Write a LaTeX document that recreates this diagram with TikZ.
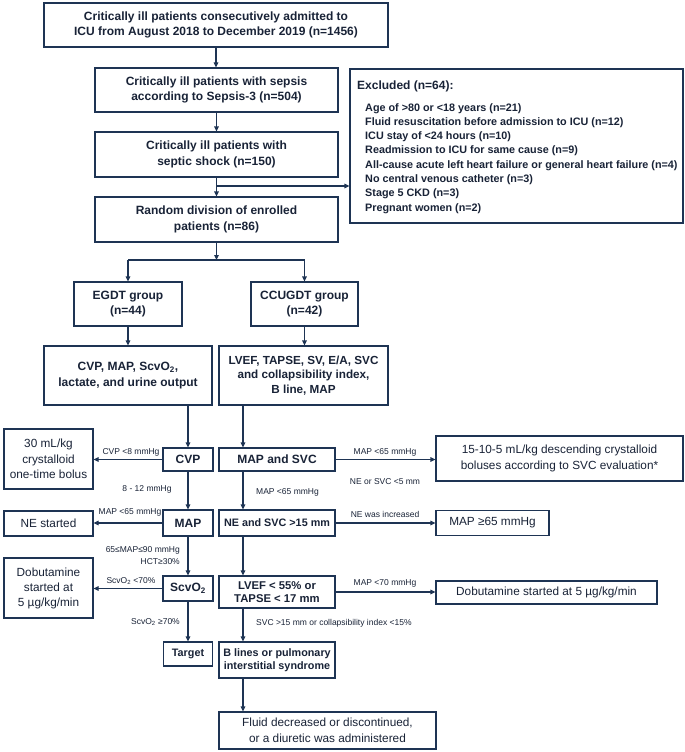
\documentclass[tikz,border=0pt]{standalone}
\usepackage{fontspec}
\setmainfont{Liberation Sans}
\usetikzlibrary{arrows.meta}
\definecolor{navy}{RGB}{30,52,84}
\definecolor{ink}{RGB}{25,35,55}
\begin{document}
\begin{tikzpicture}[x=1pt,y=-1pt,
  wh/.style 2 args={minimum width=#1, minimum height=#2},
  box/.style={draw=navy, line width=1.1pt, text=ink, align=center, inner sep=0pt, font=\fontsize{12}{15.5}\selectfont\bfseries},
  rbox/.style={box, font=\fontsize{11.8}{15.5}\selectfont},
  lab/.style={text=ink, inner sep=0pt, font=\fontsize{8.5}{10}\selectfont},
  exitem/.style={text=ink, inner sep=0pt, anchor=base west, font=\fontsize{10.8}{13}\selectfont\bfseries},
  arr/.style={draw=navy, line width=1.1pt, -{Triangle[length=5pt,width=4.5pt]}},
  ln/.style={draw=navy, line width=1.1pt},
]
\fill[white] (0,0) rectangle (685,752);
\useasboundingbox (0,0) rectangle (685,752);

% top chain
\node[box, wh={344}{44}] (n1) at (216,25) {Critically ill patients consecutively admitted to\\ICU from August 2018 to December 2019 (n=1456)};
\node[box, wh={243}{44}] (n2) at (216.5,90) {Critically ill patients with sepsis\\according to Sepsis-3 (n=504)};
\node[box, wh={243}{45}] (n3) at (216.5,154.5) {Critically ill patients with\\septic shock (n=150)};
\node[box, wh={243}{45}] (n4) at (216.5,219.5) {Random division of enrolled\\patients (n=86)};

% excluded box
\node[draw=navy, line width=1.1pt, wh={333}{154}, inner sep=0pt] (ex) at (516.5,146) {};
\node[text=ink, inner sep=0pt, anchor=base west, font=\fontsize{12}{14}\selectfont\bfseries] (exh) at (357,89.5) {Excluded (n=64):};
\node[exitem] (e1) at (365,111.0) {Age of >80 or <18 years (n=21)};
\node[exitem] (e2) at (365,125.3) {Fluid resuscitation before admission to ICU (n=12)};
\node[exitem] (e3) at (365,139.6) {ICU stay of <24 hours (n=10)};
\node[exitem] (e4) at (365,153.9) {Readmission to ICU for same cause (n=9)};
\node[exitem] (e5) at (365,168.2) {All-cause acute left heart failure or general heart failure (n=4)};
\node[exitem] (e6) at (365,182.5) {No central venous catheter (n=3)};
\node[exitem] (e7) at (365,196.8) {Stage 5 CKD (n=3)};
\node[exitem] (e8) at (365,211.1) {Pregnant women (n=2)};

\draw[arr] (n1.south) -- (n1.south |- n2.north);
\draw[arr] (n2.south) -- (n3.north);
\draw[arr] (n3.south) -- (n4.north);
\coordinate (j1) at (216.5,186);
\draw[arr] (j1) -- (j1 -| ex.west);

% groups
\node[box, wh={108}{44}] (eg) at (128,304) {EGDT group\\(n=44)};
\node[box, wh={107}{44}] (cc) at (304.5,304) {CCUGDT group\\(n=42)};
\coordinate (j2) at (216.5,260);
\draw[arr] (n4.south) -- (j2);
\draw[ln] (j2 -| eg.north) -- (j2 -| cc.north);
\draw[arr] (j2 -| eg.north) -- (eg.north);
\draw[arr] (j2 -| cc.north) -- (cc.north);

\node[box, wh={168}{59}] (b5) at (128,375.5) {CVP, MAP, ScvO\textsubscript{2},\\lactate, and urine output};
\node[box, wh={169}{59}, font=\fontsize{11.7}{14.5}\selectfont\bfseries] (b6) at (303.5,375.5) {LVEF, TAPSE, SV, E/A, SVC\\and collapsibility index,\\B line, MAP};
\draw[arr] (eg.south) -- (eg.south |- b5.north);
\draw[arr] (cc.south) -- (cc.south |- b6.north);

% EGDT branch
\node[box, wh={50}{23}] (cvp) at (188,459.5) {CVP};
\node[box, wh={50}{26}] (map) at (188,523) {MAP};
\node[box, wh={50}{25}] (scv) at (188,588.5) {ScvO\textsubscript{2}};
\node[box, wh={49}{24}, font=\fontsize{10.8}{13}\selectfont\bfseries] (tgt) at (188,654) {Target};
\node[rbox, wh={89}{60}] (bol) at (48.5,459) {30 mL/kg\\crystalloid\\one-time bolus};
\node[rbox, wh={89}{25}] (nest) at (48.5,523.5) {NE started};
\node[rbox, wh={89}{60}, font=\fontsize{11.8}{15}\selectfont] (dobl) at (48.5,588) {Dobutamine\\started at\\5 µg/kg/min};

\draw[arr] (cvp.north |- b5.south) -- (cvp.north);
\draw[arr] (cvp.west) -- (cvp.west -| bol.east);
\draw[arr] (cvp) -- (map);
\draw[arr] (map.west) -- (map.west -| nest.east);
\draw[arr] (map) -- (scv);
\draw[arr] (scv.west) -- (scv.west -| dobl.east);
\draw[arr] (scv) -- (tgt);

\node[lab] (l1) at (131,452.5) {CVP <8 mmHg};
\node[lab] (l2) at (147,489) {8 - 12 mmHg};
\node[lab] (l3) at (130,512) {MAP <65 mmHg};
\node[lab, anchor=east] (l4) at (180,550) {65≤MAP≤90 mmHg};
\node[lab, anchor=east] (l5) at (180,562) {HCT≥30\%};
\node[lab] (l6) at (131,581) {ScvO\textsubscript{2} <70\%};
\node[lab, anchor=east] (l7) at (180,622) {ScvO\textsubscript{2} ≥70\%};

% CCUGDT branch
\node[box, wh={116}{23}] (ms) at (277,459.5) {MAP and SVC};
\node[box, wh={116}{26}, font=\fontsize{10.8}{13}\selectfont\bfseries] (nes) at (277,523) {NE and SVC >15 mm};
\node[box, wh={116}{32}, font=\fontsize{11.3}{13.5}\selectfont\bfseries] (lv) at (277,592) {LVEF < 55\% or\\TAPSE < 17 mm};
\node[box, wh={116}{36}, font=\fontsize{10.8}{13}\selectfont\bfseries] (bl) at (277,660) {B lines or pulmonary\\interstitial syndrome};
\node[rbox, wh={217}{37}] (fl) at (327.5,730.5) {Fluid decreased or discontinued,\\or a diuretic was administered};

\node[rbox, wh={247}{45}] (f15) at (559.5,458.5) {15-10-5 mL/kg descending crystalloid\\boluses according to SVC evaluation*};
\node[rbox, wh={113}{25}] (m65) at (492.5,523) {MAP ≥65 mmHg};
\node[rbox, wh={221}{23}] (dobr) at (546.5,592.5) {Dobutamine started at 5 µg/kg/min};

\draw[arr] ([xshift=-34pt]ms.north |- b6.south) -- ([xshift=-34pt]ms.north);
\draw[arr] ([xshift=-34pt]ms.south) -- ([xshift=-34pt]nes.north);
\draw[arr] ([xshift=-34pt]nes.south) -- ([xshift=-34pt]lv.north);
\draw[arr] ([xshift=-34pt]lv.south) -- ([xshift=-34pt]bl.north);
\draw[arr] ([xshift=-34pt]bl.south) -- ([xshift=-34pt]bl.south |- fl.north);
\draw[arr] (ms.east) -- (ms.east -| f15.west);
\draw[arr] (nes.east) -- (nes.east -| m65.west);
\draw[arr] (lv.east) -- (lv.east -| dobr.west);

\node[lab] (r1) at (385,452.5) {MAP <65 mmHg};
\node[lab] (r2) at (385,482) {NE or SVC <5 mm};
\node[lab, anchor=west] (r3) at (256,492) {MAP <65 mmHg};
\node[lab] (r4) at (385,514) {NE was increased};
\node[lab] (r5) at (385,583) {MAP <70 mmHg};
\node[lab, anchor=west] (r6) at (256,623) {SVC >15 mm or collapsibility index <15\%};
\end{tikzpicture}
\end{document}
